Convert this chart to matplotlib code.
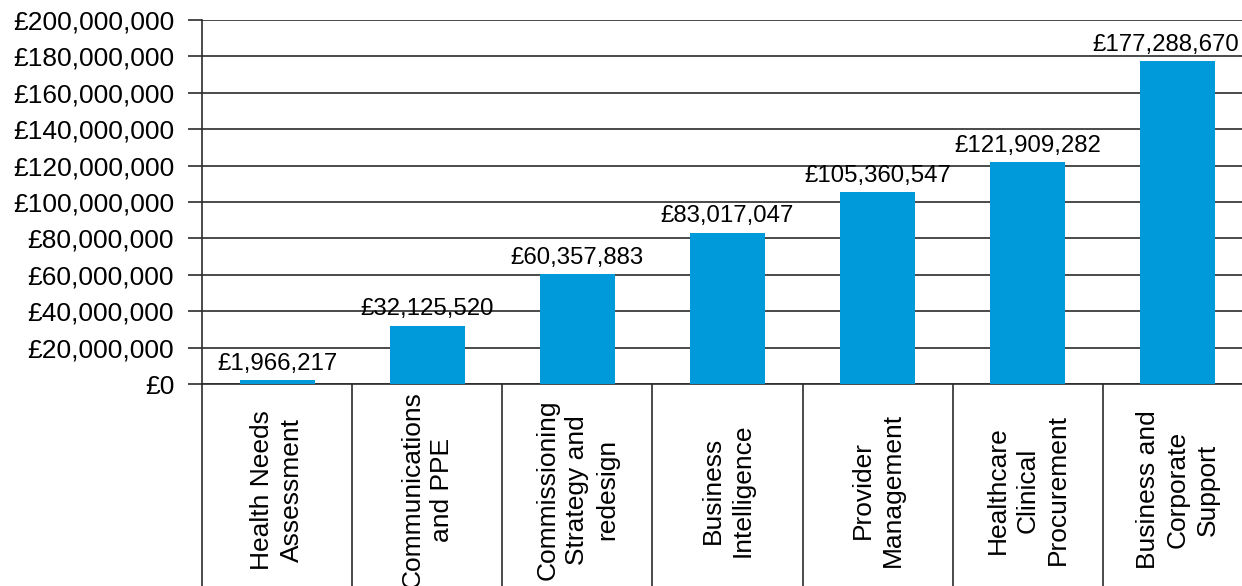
import matplotlib
matplotlib.use("Agg")
import matplotlib.pyplot as plt
from matplotlib.ticker import FuncFormatter

plt.rcParams['font.family'] = ['Liberation Sans', 'DejaVu Sans']

# data
categories = [
    "Health Needs\nAssessment",
    "Communications\nand PPE",
    "Commissioning\nStrategy and\nredesign",
    "Business\nIntelligence",
    "Provider\nManagement",
    "Healthcare\nClinical\nProcurement",
    "Business and\nCorporate\nSupport",
]
spend = [1966217, 32125520, 60357883, 83017047, 105360547, 121909282, 177288670]
y_ticks = list(range(0, 200000001, 20000000))

BAR_COLOR = '#009ADA'
LINE_COLOR = '#2b2b2b'

fig = plt.figure(figsize=(12.42, 5.86), dpi=100)
# axes runs slightly past the right edge, as in the reference
ax = fig.add_axes([202 / 1242, 202 / 586, 1051 / 1242, 364 / 586])

x = list(range(len(categories)))
ax.bar(x, spend, width=0.5, color=BAR_COLOR, zorder=3)

ax.set_xlim(-0.5, len(categories) - 0.5)
ax.set_ylim(0, 200000000)
ax.set_yticks(y_ticks)
ax.yaxis.set_major_formatter(FuncFormatter(lambda v, p: f"£{v:,.0f}"))
ax.tick_params(axis='y', length=10, width=1.2, color=LINE_COLOR, pad=10, labelsize=19)
ax.set_xticks([])
ax.grid(axis='y', color=LINE_COLOR, linewidth=1.2, zorder=0)

for side in ['top', 'right']:
    ax.spines[side].set_visible(False)
ax.spines['left'].set_color(LINE_COLOR)
ax.spines['left'].set_linewidth(1.2)
ax.spines['bottom'].set_color(LINE_COLOR)
ax.spines['bottom'].set_linewidth(1.2)

# value labels above bars (last one nudged left so it stays inside the picture)
for xi, v in zip(x, spend):
    dx = -9 if xi == x[-1] else 0
    ax.annotate(f"£{v:,.0f}", (xi, v), xytext=(dx, 4), textcoords='offset points',
                ha='center', va='bottom', fontsize=17.3)

# category labels and dividers below the axis
trans = ax.get_xaxis_transform()
for xi, lab in zip(x, categories):
    ax.text(xi, -0.291, lab, transform=trans, rotation=90, ha='center', va='center',
            multialignment='center', fontsize=19, linespacing=1.3)
bounds = [b - 0.5 for b in range(len(categories) + 1)]
ax.vlines(bounds, -0.6, 0, transform=trans, colors=LINE_COLOR, linewidth=1.2, clip_on=False)

fig.savefig("out.png", dpi=100)
